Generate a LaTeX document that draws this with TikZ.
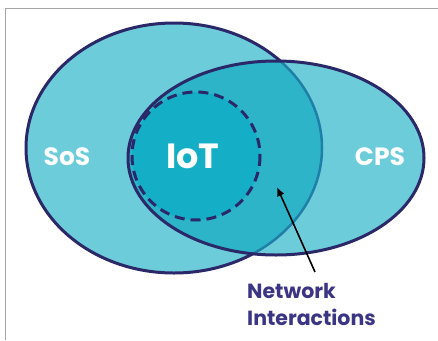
\documentclass[tikz,border=0pt]{standalone}
\usepackage{fontspec}
\usetikzlibrary{arrows.meta}
\setmainfont{Poppins}
\definecolor{lightfill}{HTML}{6CCCD9}
\definecolor{darkfill}{HTML}{2DB4C8}
\definecolor{iotfill}{HTML}{14AEC6}
\definecolor{navy}{HTML}{2A2868}
\definecolor{midline}{HTML}{1F7FA8}
\definecolor{labelnavy}{HTML}{3A3584}
\begin{document}
\begin{tikzpicture}[x=1pt,y=-1pt,
  outline/.style={draw=navy,line width=3pt},
  whitelabel/.style={text=white,font=\fontsize{25}{28}\selectfont\bfseries},
  navylabel/.style={text=labelnavy,font=\fontsize{20.5}{27}\selectfont\bfseries,align=left}]
\useasboundingbox (0,0) rectangle (438,340);
\fill[white] (0,0) rectangle (438,340);
\draw[gray!70,line width=1pt] (5,340) -- (5,8) -- (438,8);
% SoS
\fill[lightfill] (174,148) ellipse [x radius=148,y radius=125];
\draw[outline] (174,148) ellipse [x radius=148,y radius=125];
% CPS
\fill[lightfill] (276,158) ellipse [x radius=148,y radius=97];
\begin{scope}
  \clip (174,148) ellipse [x radius=148,y radius=125];
  \fill[darkfill] (276,158) ellipse [x radius=148,y radius=97];
\end{scope}
\begin{scope}
  \clip (276,158) ellipse [x radius=148,y radius=97];
  \draw[draw=midline,line width=2.5pt] (174,148) ellipse [x radius=148,y radius=125];
\end{scope}
\draw[outline] (276,158) ellipse [x radius=148,y radius=97];
% IoT
\fill[iotfill] (196,156) circle [radius=64];
\draw[navy,line width=3pt,dash pattern=on 10pt off 6pt] (196,156) circle [radius=64];
% labels
\node[whitelabel] (sos) at (67,157) {SoS};
\node[whitelabel] (cps) at (380,157) {CPS};
\node[text=white,font=\fontsize{35}{40}\selectfont\bfseries] (iot) at (193,156) {IoT};
\node[navylabel,anchor=north west,inner sep=0pt] (net) at (247,283) {Network\\Interactions};
\coordinate (tail) at (315,272);
\coordinate (head) at (277,187);
\draw[black,line width=1.6pt,-{Latex[length=9pt,width=8pt]}] (tail) -- (head);
\end{tikzpicture}
\end{document}
